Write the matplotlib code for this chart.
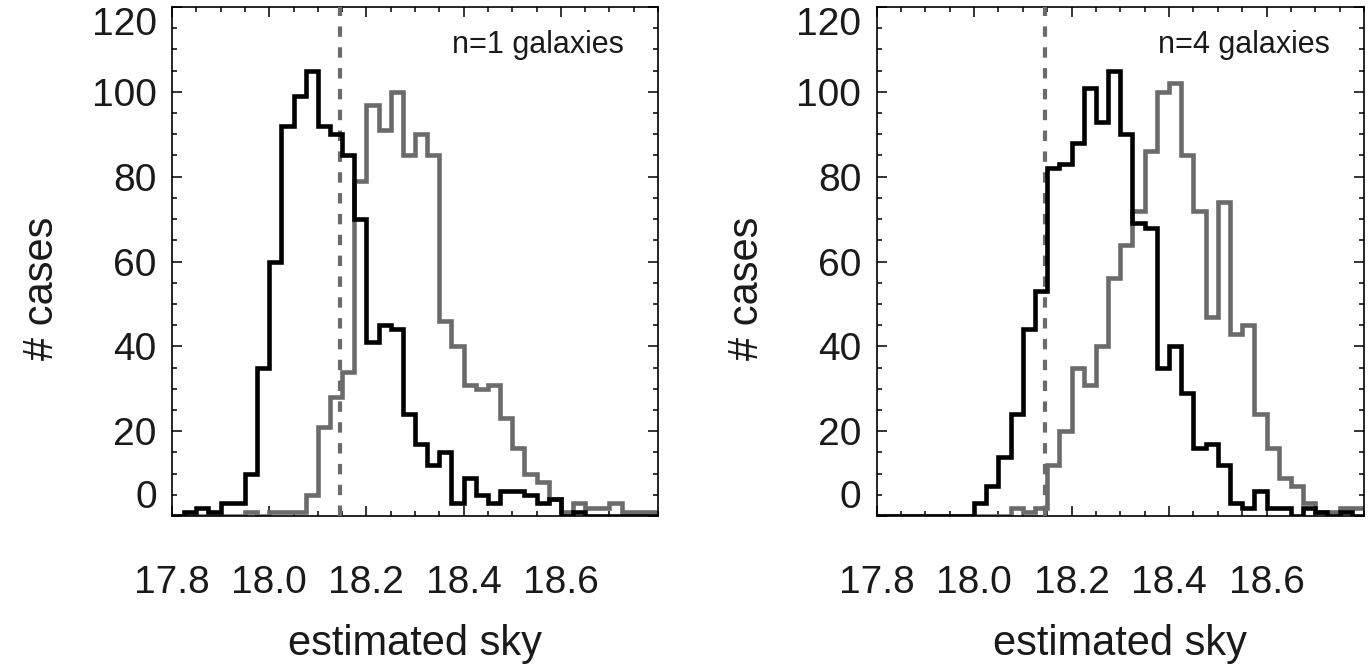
import numpy as np
import matplotlib
matplotlib.use("Agg")
import matplotlib.pyplot as plt
from matplotlib.ticker import MultipleLocator, FixedLocator

plt.rcParams['font.family'] = ['Liberation Sans', 'DejaVu Sans']
plt.rcParams['lines.scale_dashes'] = False

# histogram bins: 40 bins of 0.025 from 17.8
bin_start = 17.8
bin_width = 0.025
n_bins = 40

# n=1 galaxies
black_n1 = [0, 1, 2, 1, 3, 3, 10, 35, 60, 92,
            99, 105, 92, 90, 85, 70, 41, 45, 44, 24,
            17, 12, 15, 3, 9, 5, 3, 6, 6, 5,
            3, 4, 0, 1, 0, 0, 0, 0, 0, 0]
gray_n1 = [0, 0, 0, 0, 0, 0, 1, 0, 1, 1,
           1, 5, 21, 28, 34, 79, 97, 91, 100, 85,
           90, 85, 46, 40, 31, 30, 31, 23, 16, 10,
           8, 4, 1, 3, 2, 2, 3, 1, 1, 1]

# n=4 galaxies
black_n4 = [0, 0, 0, 0, 0, 0, 0, 0, 3, 7,
            14, 24, 44, 53, 82, 83, 88, 101, 93, 105,
            90, 69, 68, 35, 40, 29, 16, 17, 12, 3,
            2, 6, 2, 2, 0, 2, 1, 0, 1, 0]
gray_n4 = [0, 0, 0, 0, 0, 0, 0, 0, 0, 0,
           0, 2, 1, 2, 12, 20, 35, 31, 40, 56,
           64, 72, 86, 100, 102, 85, 72, 47, 74, 43,
           45, 24, 16, 9, 7, 3, 1, 1, 2, 2]

sky_true = 18.146
panel_labels = ['n=1 galaxies', 'n=4 galaxies']
x_ticks = [17.8, 18.0, 18.2, 18.4, 18.6]
y_ticks = [0, 20, 40, 60, 80, 100, 120]

edges = np.round(bin_start + bin_width * np.arange(n_bins + 1), 4)

GRAY = '#6b6b6b'
TXT = '#1a1a1a'

fig = plt.figure(figsize=(13.71, 6.64), dpi=100)
W, H = 1371.0, 664.0
rects = [(172 / W, (664 - 516) / H, 486 / W, 509 / H),
         (876.5 / W, (664 - 516) / H, 487.5 / W, 509 / H)]
data = [(black_n1, gray_n1), (black_n4, gray_n4)]

for i, (rect, (blk, gry)) in enumerate(zip(rects, data)):
    ax = fig.add_axes(rect)
    ax.stairs(gry, edges, baseline=None, color=GRAY, lw=3.3, zorder=2)
    ax.axvline(sky_true, color=GRAY, lw=3.0, dashes=(7.5, 7.5), zorder=3)
    ax.stairs(blk, edges, baseline=None, color='black', lw=3.3, zorder=4)
    for st in [ax.patches[0], ax.patches[1]]:
        st.set_joinstyle('miter')

    ax.set_xlim(17.8, 18.8)
    ax.set_ylim(0, 120)
    ax.xaxis.set_major_locator(FixedLocator(x_ticks))
    ax.xaxis.set_minor_locator(MultipleLocator(0.05))
    ax.yaxis.set_major_locator(FixedLocator(y_ticks))
    ax.yaxis.set_minor_locator(MultipleLocator(5))
    ax.set_xticklabels(['%.1f' % v for v in x_ticks])
    ax.set_yticklabels([str(v) for v in y_ticks])

    ax.tick_params(which='both', direction='in', top=True, right=True,
                   width=1.1, color='black')
    ax.tick_params(which='major', length=7)
    ax.tick_params(which='minor', length=3.5)
    ax.tick_params(axis='x', which='major', pad=35, labelsize=28, labelcolor=TXT)
    ax.tick_params(axis='y', which='major', pad=11, labelsize=28, labelcolor=TXT)
    ylabs = ax.get_yticklabels()
    ylabs[0].set_va('bottom')
    ylabs[-1].set_va('top')
    for s in ax.spines.values():
        s.set_linewidth(1.2)

    ax.text(0.93, 0.955, panel_labels[i], transform=ax.transAxes, ha='right',
            va='top', fontsize=22, color=TXT)

    # axis titles placed like the original
    x0 = rect[0] + rect[2] / 2
    fig.text(x0, (664 - 655) / H, 'estimated sky', ha='center', va='baseline',
             fontsize=30, color=TXT)
    fig.text(rect[0] - 130 / W, (664 - 288) / H, '# cases', rotation=90,
             ha='center', va='center', fontsize=30, color=TXT)

fig.savefig('out.png', dpi=100)
